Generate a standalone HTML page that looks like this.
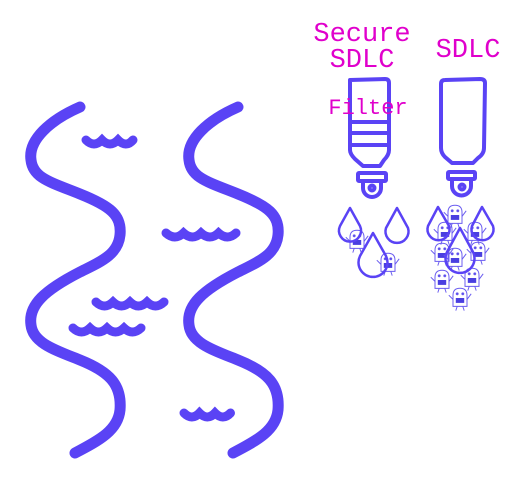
<!DOCTYPE html>
<html><head><style>
html,body{margin:0;padding:0;background:#fff;width:526px;height:478px;overflow:hidden}
svg{display:block}
text{font-family:"Liberation Mono","DejaVu Sans Mono",monospace;fill:#e000cc}
</style></head><body>
<svg width="526" height="478" viewBox="0 0 526 478">
<defs>
<symbol id="m" viewBox="-10 -10 20 20" overflow="visible">
<g fill="none" stroke="#6a5cf0" stroke-width="0.7">
<path d="M-5 6 L-5 -2 Q-5 -7 0 -7 Q5 -7 5 -2 L5 6 Z"/>
<rect x="-3" y="0" width="6" height="3.5" fill="#4a3fe0" stroke="none"/>
<circle cx="-2" cy="-3" r="0.7" fill="#4a3fe0"/><circle cx="2" cy="-3" r="0.7" fill="#4a3fe0"/>
<path d="M-5 1 L-8 -2 M5 1 L8 -3 M-2 6 L-3 9 M2 6 L3 9"/>
</g>
</symbol>
</defs>
<g fill="none" stroke="#5a43f5" stroke-width="11" stroke-linecap="round">
<path d="M80 107 C50 120 28 140 31 160 C33 178 50 182 80 194 C110 206 122 215 120 235 C118 255 100 262 80 272 C45 290 28 305 31 325 C33 343 55 350 80 360 C110 372 122 385 120 410 C118 430 100 440 75 453"/>
<path d="M238 107 C208 120 186 140 189 160 C191 178 208 182 238 194 C268 206 280 215 278 235 C276 255 258 262 238 272 C203 290 186 305 189 325 C191 343 213 350 238 360 C268 372 280 385 278 410 C276 430 258 440 233 453"/>
</g>
<g fill="none" stroke="#5a43f5" stroke-width="9" stroke-linecap="round">
<path d="M86 140 q8 8 16 0 q8 8 16 0 q8 8 15 0"/>
<path d="M166 233 q9 8 17.5 0 q9 8 17.5 0 q9 8 17.5 0 q9 8 17.5 0"/>
<path d="M96 302 q8.5 8 17 0 q8.5 8 17 0 q8.5 8 17 0 q8.5 8 17 0"/>
<path d="M73 328 q8.5 8 17 0 q8.5 8 17 0 q8.5 8 17 0 q8.5 8 17 0"/>
<path d="M184 413 q8 8 15.5 0 q8 8 15.5 0 q8 8 15.5 0"/>
</g>
<g fill="none" stroke="#5a43f5" stroke-width="4" stroke-linejoin="round">
<path d="M350 80 L385 79 Q389 79 389 83 L389 150 Q389 155 384 160 L380 166 L363 166 L355 159 Q350 154 350 150 Z"/>
<line x1="350" y1="122" x2="389" y2="122"/><line x1="350" y1="133" x2="389" y2="133"/><line x1="350" y1="145" x2="389" y2="145"/>
<rect x="358" y="173" width="28" height="8" rx="1"/>
<path d="M363 183 L363 188 A9 9 0 0 0 381 188 L381 183"/>
<circle cx="372" cy="188" r="2.5"/>
<path d="M445 80 L480 79 Q485 79 485 83 L484 148 Q484 154 478 158 L473 163 L452 163 L445 157 Q441 153 441 148 L441 84 Q441 80 445 80 Z"/>
<rect x="448" y="172" width="27" height="7" rx="1"/>
<path d="M452 181 L452 186 A9.5 9.5 0 0 0 471 186 L471 181"/>
<circle cx="462" cy="187" r="2.5"/>
</g>
<g>
<use href="#m" x="343" y="226" width="28" height="28"/>
<use href="#m" x="374" y="249" width="28" height="28"/>
<use href="#m" x="441" y="201" width="28" height="28"/>
<use href="#m" x="431" y="218" width="28" height="28"/>
<use href="#m" x="461" y="218" width="28" height="28"/>
<use href="#m" x="428" y="239" width="28" height="28"/>
<use href="#m" x="441" y="244" width="28" height="28"/>
<use href="#m" x="464" y="238" width="28" height="28"/>
<use href="#m" x="428" y="266" width="28" height="28"/>
<use href="#m" x="458" y="264" width="28" height="28"/>
<use href="#m" x="446" y="284" width="28" height="28"/>
</g>
<g fill="none" stroke="#5a43f5" stroke-width="2.5" stroke-linejoin="round">
<path d="M350 208 L340 226 A11 11 0 1 0 360 226 Z"/>
<path d="M397 208 L386 228 A11.5 11.5 0 1 0 408 228 Z"/>
<path d="M373 233 L360 256 A14.5 14.5 0 1 0 386 256 Z"/>
<path d="M438 207 L428 226 A11 11 0 1 0 449 226 Z"/>
<path d="M482 207 L472 226 A11 11 0 1 0 493 226 Z"/>
<path d="M460 228 L447 252 A14.5 14.5 0 1 0 473 252 Z"/>
</g>
<text x="362" y="41" font-size="27" text-anchor="middle">Secure</text>
<text x="362" y="67" font-size="27" text-anchor="middle">SDLC</text>
<text x="468" y="57" font-size="27" text-anchor="middle">SDLC</text>
<text x="368" y="114" font-size="22" text-anchor="middle">Filter</text>
</svg>
</body></html>
